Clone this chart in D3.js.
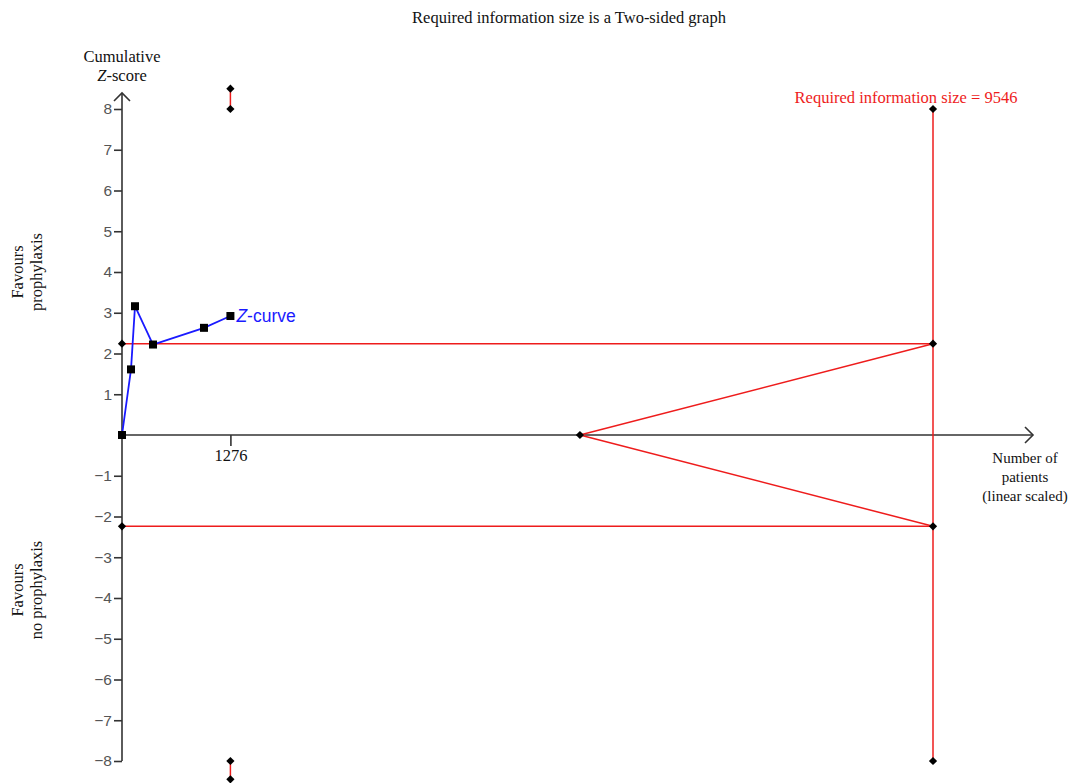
<!DOCTYPE html>
<html>
<head>
<meta charset="utf-8">
<script src="https://cdn.jsdelivr.net/npm/d3@7"></script>
<style>
  html, body { margin: 0; padding: 0; background: #fff; }
  svg { display: block; }
</style>
</head>
<body>
<svg id="chart" width="1070" height="783"></svg>
<script>
// Trial sequential analysis data
const zCurveN = [0, 106, 153, 365, 965, 1276];
const zCurveZ = [0, 1.61, 3.16, 2.22, 2.63, 2.92];
const requiredInfoSize = 9546;
const conventionalZ = 2.24;
const monitoringN = [1276];
const monitoringUpper = [8.5, 8];
const monitoringLower = [-8, -8.45];
const futilityStartN = 5390;
const yTicks = [-8, -7, -6, -5, -4, -3, -2, -1, 1, 2, 3, 4, 5, 6, 7, 8];
const xTickLabels = ["1276"];

const svg = d3.select("#chart");
const serif = "'Liberation Serif', 'Times New Roman', serif";
const sans = "'Liberation Sans', Arial, sans-serif";

const x = d3.scaleLinear().domain([0, requiredInfoSize]).range([122, 933]);
const y = d3.scaleLinear().domain([-8, 8]).range([761, 109]);
const x0 = x(0), y0 = y(0);

// Title
svg.append("text").attr("x", 569).attr("y", 23).attr("text-anchor", "middle")
  .attr("font-family", serif).attr("font-size", 16.5).attr("fill", "#111")
  .text("Required information size is a Two-sided graph");

// Y axis with ticks on the left
const yAxis = d3.axisLeft(y).tickValues(yTicks).tickSize(8).tickPadding(2)
  .tickFormat(d => d < 0 ? "\u2212" + Math.abs(d) : String(d));
const gy = svg.append("g").attr("transform", `translate(${x0},0)`).call(yAxis);
gy.select(".domain").remove();
gy.selectAll(".tick line").attr("stroke", "#333").attr("stroke-width", 1.6);
gy.selectAll(".tick text").attr("font-family", sans).attr("font-size", 15.5).attr("fill", "#555");
svg.append("line").attr("x1", x0).attr("x2", x0).attr("y1", y(-8)).attr("y2", 93)
  .attr("stroke", "#333").attr("stroke-width", 1.6);
svg.append("path").attr("d", `M${x0 - 8},${101} L${x0},${93} L${x0 + 8},${101}`)
  .attr("fill", "none").attr("stroke", "#333").attr("stroke-width", 1.6);

// X axis with a single tick below
const xAxis = d3.axisBottom(x).tickValues(xTickLabels.map(Number)).tickSize(11).tickPadding(3)
  .tickFormat(d => String(d));
const gx = svg.append("g").attr("transform", `translate(0,${y0})`).call(xAxis);
gx.select(".domain").remove();
gx.selectAll(".tick line").attr("stroke", "#333").attr("stroke-width", 1.6);
gx.selectAll(".tick text").attr("font-family", serif).attr("font-size", 16.5).attr("fill", "#111");
svg.append("line").attr("x1", x0).attr("x2", 1033).attr("y1", y0).attr("y2", y0)
  .attr("stroke", "#333").attr("stroke-width", 1.6);
svg.append("path").attr("d", `M${1025},${y0 - 8} L${1033},${y0} L${1025},${y0 + 8}`)
  .attr("fill", "none").attr("stroke", "#333").attr("stroke-width", 1.6);

// Axis titles
const yTitle = svg.append("text").attr("text-anchor", "middle")
  .attr("font-family", serif).attr("font-size", 16.5).attr("fill", "#111");
yTitle.append("tspan").attr("x", 122).attr("y", 62).text("Cumulative");
const zs = yTitle.append("tspan").attr("x", 122).attr("y", 81);
zs.append("tspan").attr("font-style", "italic").text("Z");
zs.append("tspan").text("-score");

const xTitle = svg.append("text").attr("text-anchor", "middle")
  .attr("font-family", serif).attr("font-size", 15).attr("fill", "#111");
["Number of", "patients", "(linear scaled)"].forEach((t, i) =>
  xTitle.append("tspan").attr("x", 1025).attr("y", 463 + i * 19).text(t));

function sideLabel(lines, cy) {
  const t = svg.append("text").attr("text-anchor", "middle")
    .attr("transform", `translate(23,${cy}) rotate(-90)`)
    .attr("font-family", serif).attr("font-size", 16.5).attr("fill", "#111");
  lines.forEach((s, i) => t.append("tspan").attr("x", 0).attr("y", i * 19).text(s));
}
sideLabel(["Favours", "prophylaxis"], 272);
sideLabel(["Favours", "no prophylaxis"], 590);

const red = "#ee1c1c";

// Conventional boundaries
[conventionalZ, -conventionalZ].forEach(z => {
  svg.append("line").attr("x1", x(0)).attr("x2", x(requiredInfoSize))
    .attr("y1", y(z)).attr("y2", y(z)).attr("stroke", red).attr("stroke-width", 1.5);
});

// Futility wedge
[conventionalZ, -conventionalZ].forEach(z => {
  svg.append("line").attr("x1", x(futilityStartN)).attr("y1", y(0))
    .attr("x2", x(requiredInfoSize)).attr("y2", y(z))
    .attr("stroke", red).attr("stroke-width", 1.5);
});

// Required information size line
svg.append("line").attr("x1", x(requiredInfoSize)).attr("x2", x(requiredInfoSize))
  .attr("y1", y(8)).attr("y2", y(-8)).attr("stroke", red).attr("stroke-width", 1.5);
svg.append("text").attr("x", x(requiredInfoSize) - 27).attr("y", 103).attr("text-anchor", "middle")
  .attr("font-family", serif).attr("font-size", 16.5).attr("fill", red)
  .text("Required information size = " + requiredInfoSize);

// Monitoring boundary segments at the interim
monitoringN.forEach(n => {
  [monitoringUpper, monitoringLower].forEach(pair => {
    svg.append("line").attr("x1", x(n)).attr("x2", x(n))
      .attr("y1", y(pair[0])).attr("y2", y(pair[1]))
      .attr("stroke", red).attr("stroke-width", 1.5);
  });
});

// Boundary diamonds (squares rotated 45 degrees)
const diamond = d3.symbol().type(d3.symbolSquare).size(34);
const diamondPts = [
  [0, conventionalZ], [0, -conventionalZ],
  [futilityStartN, 0],
  [requiredInfoSize, 8], [requiredInfoSize, conventionalZ],
  [requiredInfoSize, -conventionalZ], [requiredInfoSize, -8]
];
monitoringN.forEach(n => {
  monitoringUpper.forEach(z => diamondPts.push([n, z]));
  monitoringLower.forEach(z => diamondPts.push([n, z]));
});
svg.selectAll(".dia").data(diamondPts).join("path").attr("class", "dia")
  .attr("d", diamond).attr("transform", d => `translate(${x(d[0])},${y(d[1])}) rotate(45)`)
  .attr("fill", "#000");

// Cumulative Z-curve
const zPts = zCurveN.map((n, i) => [n, zCurveZ[i]]);
svg.append("path").datum(zPts)
  .attr("d", d3.line().x(d => x(d[0])).y(d => y(d[1])))
  .attr("fill", "none").attr("stroke", "#1a1aff").attr("stroke-width", 1.8);
svg.selectAll(".sq").data(zPts).join("rect").attr("class", "sq")
  .attr("x", d => x(d[0]) - 4).attr("y", d => y(d[1]) - 4)
  .attr("width", 8).attr("height", 8).attr("fill", "#000");

const last = zPts[zPts.length - 1];
const zl = svg.append("text").attr("x", x(last[0]) + 6).attr("y", y(last[1]) + 6)
  .attr("font-family", sans).attr("font-size", 17.5).attr("fill", "#1a1aff");
zl.append("tspan").attr("font-style", "italic").text("Z");
zl.append("tspan").text("-curve");
</script>
</body>
</html>
